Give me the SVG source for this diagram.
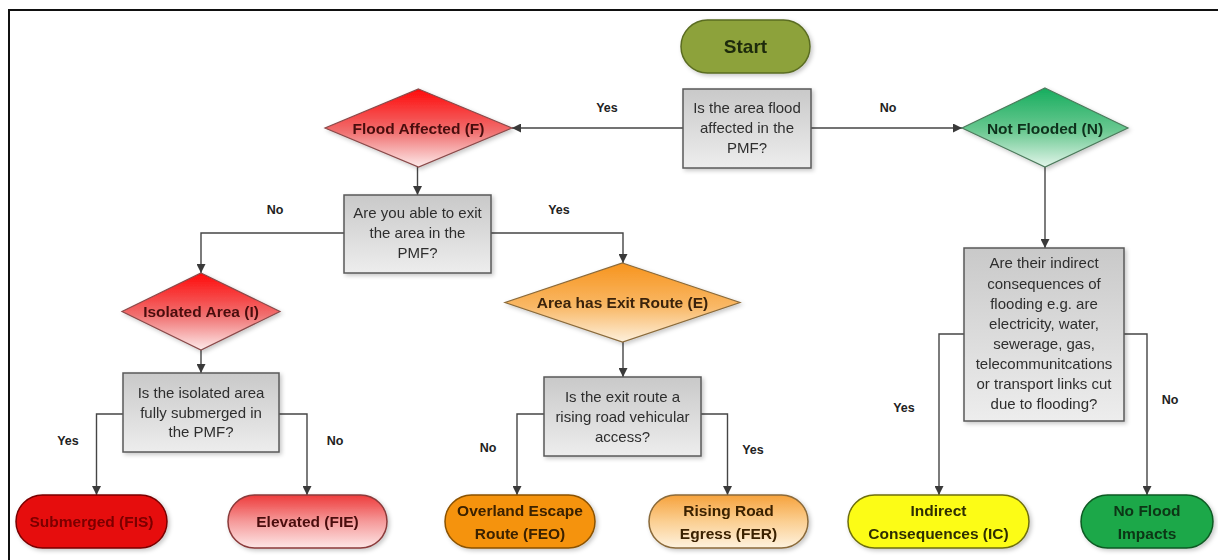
<svg xmlns="http://www.w3.org/2000/svg" width="1218" height="560" viewBox="0 0 1218 560">
<defs>
<style>
.frame{fill:none;stroke:#111;stroke-width:2}
.conn{fill:none;stroke:#454545;stroke-width:1.4}
.box{stroke:#5a5a5a;stroke-width:1.5;fill:url(#gGray)}
.boxt{font-family:"Liberation Sans",Arial,sans-serif;font-size:15px;fill:#2e2e2e;text-anchor:middle}
.lbl{font-family:"Liberation Sans",Arial,sans-serif;font-size:12.5px;font-weight:bold;fill:#222;text-anchor:middle}
.bt{font-family:"Liberation Sans",Arial,sans-serif;font-size:15.5px;font-weight:bold;text-anchor:middle}
.sh{filter:url(#shadow)}
</style>
<filter id="shadow" x="-20%" y="-20%" width="140%" height="150%">
<feDropShadow dx="2" dy="2" stdDeviation="2" flood-color="#000" flood-opacity="0.22"/>
</filter>
<marker id="arr" markerUnits="userSpaceOnUse" markerWidth="9" markerHeight="9" viewBox="0 0 10 10" refX="10" refY="5" orient="auto">
<path d="M0,0 L10,5 L0,10 z" fill="#3a3a3a"/>
</marker>
<linearGradient id="gGray" x1="0" y1="0" x2="0" y2="1">
<stop offset="0" stop-color="#c9c9c9"/>
<stop offset="1" stop-color="#ededed"/>
</linearGradient>
<linearGradient id="gRed" x1="0" y1="0" x2="0" y2="1">
<stop offset="0" stop-color="#ff0a0a"/>
<stop offset="0.55" stop-color="#f07070"/>
<stop offset="1" stop-color="#fdeaea"/>
</linearGradient>
<linearGradient id="gOrange" x1="0" y1="0" x2="0" y2="1">
<stop offset="0" stop-color="#f7941d"/>
<stop offset="0.55" stop-color="#f9b866"/>
<stop offset="1" stop-color="#fdf0dc"/>
</linearGradient>
<linearGradient id="gGreen" x1="0" y1="0" x2="0" y2="1">
<stop offset="0" stop-color="#16ad5e"/>
<stop offset="0.55" stop-color="#6cc992"/>
<stop offset="1" stop-color="#e2f5ea"/>
</linearGradient>
<linearGradient id="gElev" x1="0" y1="0" x2="0" y2="1">
<stop offset="0" stop-color="#ee3b3b"/>
<stop offset="0.5" stop-color="#f59a9a"/>
<stop offset="1" stop-color="#fde6e6"/>
</linearGradient>
<linearGradient id="gRise" x1="0" y1="0" x2="0" y2="1">
<stop offset="0" stop-color="#f6a23c"/>
<stop offset="0.5" stop-color="#fbcf92"/>
<stop offset="1" stop-color="#fef2de"/>
</linearGradient>
</defs>

<rect width="1218" height="560" fill="#ffffff"/>
<path class="frame" d="M9,560 V10 H1218"/>

<g id="connectors">
<path class="conn" d="M683,128 H512" marker-end="url(#arr)"/>
<path class="conn" d="M811,128 H962" marker-end="url(#arr)"/>
<path class="conn" d="M417.5,167 V195" marker-end="url(#arr)"/>
<path class="conn" d="M344,233 H201 V273" marker-end="url(#arr)"/>
<path class="conn" d="M491,233 H623 V263" marker-end="url(#arr)"/>
<path class="conn" d="M201,350 V373" marker-end="url(#arr)"/>
<path class="conn" d="M123,414 H96.5 V495" marker-end="url(#arr)"/>
<path class="conn" d="M279,414 H307 V495" marker-end="url(#arr)"/>
<path class="conn" d="M623,342 V377" marker-end="url(#arr)"/>
<path class="conn" d="M544,414 H517 V495" marker-end="url(#arr)"/>
<path class="conn" d="M701,414 H727.5 V495" marker-end="url(#arr)"/>
<path class="conn" d="M1045,167 V248" marker-end="url(#arr)"/>
<path class="conn" d="M964,334 H939 V495" marker-end="url(#arr)"/>
<path class="conn" d="M1124,334 H1147 V495" marker-end="url(#arr)"/>
<text class="lbl" x="607" y="112">Yes</text>
<text class="lbl" x="888" y="112">No</text>
<text class="lbl" x="275" y="214">No</text>
<text class="lbl" x="559" y="214">Yes</text>
<text class="lbl" x="68" y="445">Yes</text>
<text class="lbl" x="335" y="445">No</text>
<text class="lbl" x="488" y="452">No</text>
<text class="lbl" x="753" y="454">Yes</text>
<text class="lbl" x="904" y="412">Yes</text>
<text class="lbl" x="1170" y="404">No</text>
</g>

<g id="start" class="sh">
<rect x="681" y="20" width="129" height="53" rx="26.5" fill="#8da23a" stroke="#5a6c22" stroke-width="1.5"/>
<text class="bt" x="745.5" y="53" style="font-size:19px;fill:#1e2a0a">Start</text>
</g>

<g id="q-flood" class="sh">
<rect class="box" x="683" y="89" width="128" height="79"/>
<text class="boxt" x="747" y="113">Is the area flood</text>
<text class="boxt" x="747" y="133">affected in the</text>
<text class="boxt" x="747" y="153">PMF?</text>
</g>

<g id="flood-affected" class="sh">
<polygon points="418.5,89 512,128 418.5,167 325,128" fill="url(#gRed)" stroke="#8a4a4a" stroke-width="1.2"/>
<text class="bt" x="418.5" y="133.5" style="fill:#4a0e0e">Flood Affected (F)</text>
</g>

<g id="not-flooded" class="sh">
<polygon points="1045,88 1128,128 1045,167 962,128" fill="url(#gGreen)" stroke="#4d7a5c" stroke-width="1.2"/>
<text class="bt" x="1045" y="133.5" style="fill:#10301c">Not Flooded (N)</text>
</g>

<g id="q-exit" class="sh">
<rect class="box" x="344" y="195" width="147" height="78"/>
<text class="boxt" x="417.5" y="218">Are you able to exit</text>
<text class="boxt" x="417.5" y="238">the area in the</text>
<text class="boxt" x="417.5" y="258">PMF?</text>
</g>

<g id="isolated" class="sh">
<polygon points="201,273 280,311.5 201,350 122,311.5" fill="url(#gRed)" stroke="#8a4a4a" stroke-width="1.2"/>
<text class="bt" x="201" y="317" style="fill:#4a0e0e">Isolated Area (I)</text>
</g>

<g id="exit-route" class="sh">
<polygon points="622.5,263 740,302.5 622.5,342 505,302.5" fill="url(#gOrange)" stroke="#8a6a3a" stroke-width="1.2"/>
<text class="bt" x="622.5" y="308" style="fill:#3a240a">Area has Exit Route (E)</text>
</g>

<g id="q-submerged" class="sh">
<rect class="box" x="123" y="373" width="156" height="79"/>
<text class="boxt" x="201" y="398">Is the isolated area</text>
<text class="boxt" x="201" y="418">fully submerged in</text>
<text class="boxt" x="201" y="437">the PMF?</text>
</g>

<g id="q-rising" class="sh">
<rect class="box" x="544" y="377" width="157" height="79"/>
<text class="boxt" x="622.5" y="401.5">Is the exit route a</text>
<text class="boxt" x="622.5" y="421.5">rising road vehicular</text>
<text class="boxt" x="622.5" y="441.5">access?</text>
</g>

<g id="q-indirect" class="sh">
<rect class="box" x="964" y="248" width="160" height="173"/>
<text class="boxt" x="1044" y="268">Are their indirect</text>
<text class="boxt" x="1044" y="289">consequences of</text>
<text class="boxt" x="1044" y="309">flooding e.g. are</text>
<text class="boxt" x="1044" y="329">electricity, water,</text>
<text class="boxt" x="1044" y="349">sewerage, gas,</text>
<text class="boxt" x="1044" y="369">telecommunitcations</text>
<text class="boxt" x="1044" y="389">or transport links cut</text>
<text class="boxt" x="1044" y="409">due to flooding?</text>
</g>

<g id="submerged" class="sh">
<rect x="16" y="495" width="151" height="53" rx="26.5" fill="#e60e0e" stroke="#7a0000" stroke-width="1.5"/>
<text class="bt" x="91.5" y="527" style="fill:#7a0000">Submerged (FIS)</text>
</g>

<g id="elevated" class="sh">
<rect x="228" y="495" width="159" height="53" rx="26.5" fill="url(#gElev)" stroke="#8a3a3a" stroke-width="1.5"/>
<text class="bt" x="307.5" y="527" style="fill:#4a0e0e">Elevated (FIE)</text>
</g>

<g id="overland" class="sh">
<rect x="445" y="495" width="150" height="53" rx="26.5" fill="#f5930f" stroke="#8a5200" stroke-width="1.5"/>
<text class="bt" x="520" y="515.5" style="fill:#3a2000">Overland Escape</text>
<text class="bt" x="520" y="538.5" style="fill:#3a2000">Route (FEO)</text>
</g>

<g id="rising" class="sh">
<rect x="649" y="495" width="159" height="53" rx="26.5" fill="url(#gRise)" stroke="#8a6a3a" stroke-width="1.5"/>
<text class="bt" x="728.5" y="515.5" style="fill:#3a2000">Rising Road</text>
<text class="bt" x="728.5" y="538.5" style="fill:#3a2000">Egress (FER)</text>
</g>

<g id="indirect" class="sh">
<rect x="848" y="495" width="181" height="53" rx="26.5" fill="#fcfc14" stroke="#6e6e10" stroke-width="1.5"/>
<text class="bt" x="938.5" y="515.5" style="fill:#2e2e06">Indirect</text>
<text class="bt" x="938.5" y="538.5" style="fill:#2e2e06">Consequences (IC)</text>
</g>

<g id="no-impacts" class="sh">
<rect x="1081" y="495" width="132" height="53" rx="26.5" fill="#1ea848" stroke="#0e5a24" stroke-width="1.5"/>
<text class="bt" x="1147" y="515.5" style="fill:#0a3416">No Flood</text>
<text class="bt" x="1147" y="538.5" style="fill:#0a3416">Impacts</text>
</g>
</svg>
